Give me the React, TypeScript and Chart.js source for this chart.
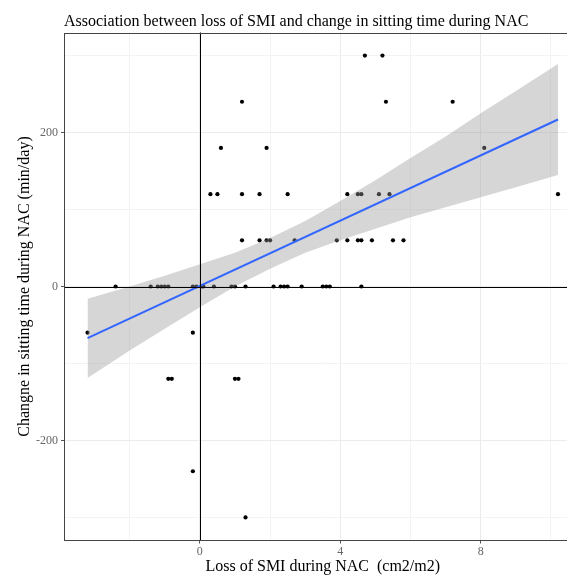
import React, { useEffect, useRef } from 'react';
import { Chart, registerables } from 'chart.js';

Chart.register(...registerables);

const TITLE = 'Association between loss of SMI and change in sitting time during NAC';
const X_TITLE = 'Loss of SMI during NAC  (cm2/m2)';
const Y_TITLE = 'Changne in sitting time during NAC (min/day)';

// Observations (loss of SMI, change in sitting time)
const lossSMI = [
  -3.2, -2.4, -1.4, -1.2, -1.1, -1.0, -0.9, -0.9, -0.8,
  -0.2, -0.1, 0.05, 0.1, -0.2, -0.2,
  0.4, 0.9, 1.0, 1.3, 1.0, 1.1, 1.3,
  2.1, 2.3, 2.4, 2.5, 2.9, 3.5, 3.6, 3.7, 4.6,
  0.3, 0.5, 1.2, 1.7, 2.5,
  1.2, 1.7, 1.9, 2.0, 2.7,
  0.6, 1.9, 1.2,
  3.9, 4.2, 4.5, 4.6, 4.9, 5.5, 5.8,
  4.2, 4.5, 4.6, 5.1, 5.4, 10.2,
  8.1, 5.3, 7.2, 4.7, 5.2,
];
const sittingChange = [
  -60, 0, 0, 0, 0, 0, 0, -120, -120,
  0, 0, 0, 0, -60, -240,
  0, 0, 0, 0, -120, -120, -300,
  0, 0, 0, 0, 0, 0, 0, 0, 0,
  120, 120, 120, 120, 120,
  60, 60, 60, 60, 60,
  180, 180, 240,
  60, 60, 60, 60, 60, 60, 60,
  120, 120, 120, 120, 120, 120,
  180, 240, 240, 300, 300,
];

// Linear fit and its confidence band
const fitX = [-3.2, 10.2];
const fitY = [-67, 217];
const bandX = [-3.2, -2, -1, 0, 1, 2, 3, 4, 5, 6, 7, 8, 9, 10.2];
const bandUpper = [-16, 0, 14, 29, 44, 63, 85, 111, 138, 167, 195, 225, 254, 289];
const bandLower = [-119, -83, -55, -27, 0, 23, 44, 60, 75, 90, 103, 116, 129, 145];

// Axes
const xGrid = [-2, 0, 2, 4, 6, 8, 10];
const xLabeled = [0, 4, 8];
const yGrid = [-300, -200, -100, 0, 100, 200, 300];
const yLabeled = [-200, 0, 200];
const xMin = -3.87;
const xMax = 10.87;
const yMin = -330;
const yMax = 330;

const FONT = "'Liberation Serif', 'DejaVu Serif', serif";

export default function App() {
  const ref = useRef<HTMLCanvasElement | null>(null);

  useEffect(() => {
    const canvas = ref.current;
    if (!canvas) return;

    const frame = {
      id: 'frame',
      afterDatasetsDraw(chart: any) {
        const { ctx, chartArea: a, scales } = chart;
        const x0 = Math.round(scales.x.getPixelForValue(0)) + 0.5;
        const y0 = Math.round(scales.y.getPixelForValue(0)) + 0.5;
        ctx.save();
        ctx.strokeStyle = '#000';
        ctx.lineWidth = 1;
        ctx.beginPath();
        ctx.moveTo(x0, a.top);
        ctx.lineTo(x0, a.bottom);
        ctx.moveTo(a.left, y0);
        ctx.lineTo(a.right, y0);
        ctx.stroke();
        ctx.strokeStyle = '#444';
        ctx.strokeRect(Math.round(a.left) + 0.5, Math.round(a.top) + 0.5,
          Math.round(a.right - a.left) - 1, Math.round(a.bottom - a.top) - 1);
        ctx.restore();
      },
    };

    const chart = new Chart(canvas, {
      type: 'scatter',
      data: {
        datasets: [
          {
            type: 'scatter',
            data: lossSMI.map((x, i) => ({ x, y: sittingChange[i] })),
            backgroundColor: '#000',
            borderColor: '#000',
            borderWidth: 0,
            pointRadius: 2.1,
            order: 3,
          } as any,
          {
            type: 'line',
            data: bandX.map((x, i) => ({ x, y: bandUpper[i] })),
            fill: '+1',
            backgroundColor: 'rgba(153,153,153,0.4)',
            borderColor: 'rgba(0,0,0,0)',
            borderWidth: 0,
            pointRadius: 0,
            order: 2,
          },
          {
            type: 'line',
            data: bandX.map((x, i) => ({ x, y: bandLower[i] })),
            fill: false,
            backgroundColor: 'rgba(0,0,0,0)',
            borderColor: 'rgba(0,0,0,0)',
            borderWidth: 0,
            pointRadius: 0,
            order: 2,
          },
          {
            type: 'line',
            data: fitX.map((x, i) => ({ x, y: fitY[i] })),
            fill: false,
            borderColor: '#3366FF',
            borderWidth: 2,
            pointRadius: 0,
            order: 1,
          },
        ],
      },
      options: {
        animation: false,
        responsive: false,
        events: [],
        layout: { padding: { left: 0, top: 0, right: 18.5, bottom: 0 } },
        plugins: {
          legend: { display: false },
          tooltip: { enabled: false },
          title: {
            display: true,
            text: TITLE,
            align: 'start',
            fullSize: false,
            color: '#000',
            font: { family: FONT, size: 16, weight: 'normal', lineHeight: 1.2 },
            padding: { top: 12, bottom: 1.3 },
          },
        },
        scales: {
          x: {
            type: 'linear',
            min: xMin,
            max: xMax,
            afterBuildTicks: (s: any) => {
              s.ticks = xGrid.map((v) => ({ value: v }));
            },
            afterFit: (s: any) => {
              s.height = 39.5;
            },
            border: { display: false },
            grid: {
              color: (c: any) => (c.tick && xLabeled.includes(c.tick.value) ? '#ebebeb' : '#f3f3f3'),
              tickColor: (c: any) => (c.tick && xLabeled.includes(c.tick.value) ? '#555' : 'rgba(0,0,0,0)'),
              tickLength: 3,
              lineWidth: 1,
            },
            ticks: {
              callback: (v: any) => (xLabeled.includes(v) ? String(v) : ''),
              color: '#666',
              font: { family: FONT, size: 12 },
              padding: 1.5,
              maxRotation: 0,
              autoSkip: false,
            },
            title: {
              display: true,
              text: X_TITLE,
              color: '#000',
              font: { family: FONT, size: 16, lineHeight: 1.2 },
              padding: { top: 0, bottom: 3.4 },
            },
          },
          y: {
            type: 'linear',
            min: yMin,
            max: yMax,
            afterBuildTicks: (s: any) => {
              s.ticks = yGrid.map((v) => ({ value: v }));
            },
            afterFit: (s: any) => {
              s.width = 64;
            },
            border: { display: false },
            grid: {
              color: (c: any) => (c.tick && yLabeled.includes(c.tick.value) ? '#ebebeb' : '#f3f3f3'),
              tickColor: (c: any) => (c.tick && yLabeled.includes(c.tick.value) ? '#555' : 'rgba(0,0,0,0)'),
              tickLength: 3,
              lineWidth: 1,
            },
            ticks: {
              callback: (v: any) => (yLabeled.includes(v) ? String(v) : ''),
              color: '#666',
              font: { family: FONT, size: 12 },
              padding: 3,
              autoSkip: false,
            },
            title: {
              display: true,
              text: Y_TITLE,
              color: '#000',
              font: { family: FONT, size: 16, lineHeight: 1.2 },
              padding: { top: 14.9, bottom: 0 },
            },
          },
        },
      } as any,
      plugins: [frame],
    });

    return () => chart.destroy();
  }, []);

  return (
    <div
      style={{
        position: 'fixed',
        left: 0,
        top: 0,
        width: 567,
        height: 575,
        overflow: 'hidden',
        background: '#fff',
      }}
    >
      <canvas ref={ref} width={600} height={580} style={{ display: 'block' }} />
    </div>
  );
}
